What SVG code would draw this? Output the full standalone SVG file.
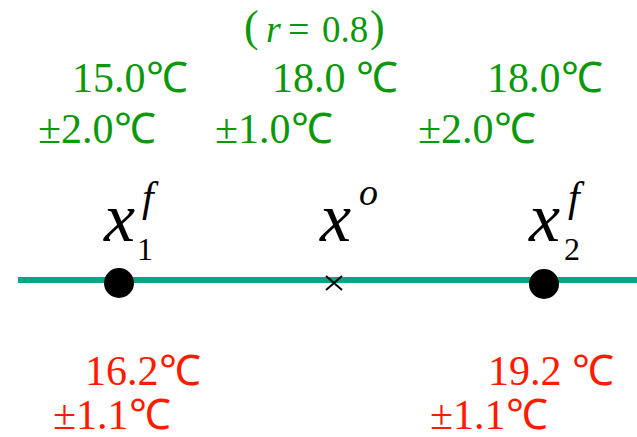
<svg xmlns="http://www.w3.org/2000/svg" width="637" height="437" viewBox="0 0 637 437">
<style>
text{font-family:"Liberation Serif","Times New Roman",serif}
.g{fill:#0b980b}
.r{fill:#ff1a00}
.lab{font-size:42px}
.it{font-style:italic}
</style>
<rect width="637" height="437" fill="#fff"/>
<g id="connectors">
<line x1="18" y1="280" x2="637" y2="280" stroke="#00a686" stroke-width="6"/>
</g>
<g id="title" class="g">
<text x="244" y="41" font-size="44">(</text>
<text class="it" x="266" y="42" font-size="38">r</text>
<text x="288" y="42" font-size="38">=</text>
<text x="322" y="42" font-size="37">0.8</text>
<text x="370" y="41" font-size="44">)</text>
</g>
<g id="node-x1">
<circle cx="119" cy="283" r="15" fill="#000"/>
<text class="it" x="104" y="241" font-size="70">x</text>
<text x="137" y="260" font-size="32">1</text>
<text class="it" x="142" y="211" font-size="42">f</text>
</g>
<g id="node-xo">
<path d="M326 276 L342 290 M342 276 L326 290" stroke="#000" stroke-width="2"/>
<text class="it" x="320" y="241" font-size="70">x</text>
<text class="it" x="359" y="205" font-size="38">o</text>
</g>
<g id="node-x2">
<circle cx="544" cy="284" r="15" fill="#000"/>
<text class="it" x="529" y="241" font-size="70">x</text>
<text x="564" y="260" font-size="32">2</text>
<text class="it" x="568" y="211" font-size="42">f</text>
</g>
<g id="labels-green" class="g">
<text class="lab" x="72" y="92">15.0℃</text>
<text class="lab" x="272" y="92">18.0 ℃</text>
<text class="lab" x="487" y="92">18.0℃</text>
<text class="lab" x="38" y="143">±2.0℃</text>
<text class="lab" x="215" y="143">±1.0℃</text>
<text class="lab" x="418" y="143">±2.0℃</text>
</g>
<g id="labels-red" class="r">
<text class="lab" x="85" y="385">16.2℃</text>
<text class="lab" x="488" y="385">19.2 ℃</text>
<text class="lab" x="53" y="429">±1.1℃</text>
<text class="lab" x="430" y="429">±1.1℃</text>
</g>
</svg>
